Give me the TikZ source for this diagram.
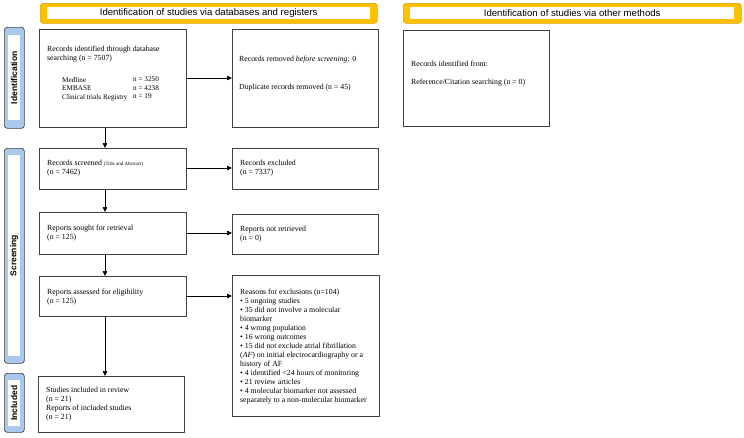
\documentclass[tikz,border=0pt]{standalone}
\usepackage{fontspec}
\setmainfont{Liberation Serif}
\newfontfamily\hdrfont{Liberation Sans}
\usetikzlibrary{arrows.meta,calc}
\definecolor{boxline}{HTML}{404040}
\definecolor{hdrorange}{HTML}{FFC000}
\definecolor{sideblue}{HTML}{A9C8EC}
\tikzset{
  box/.style={draw=boxline, line width=0.9pt, fill=white, anchor=north west, inner sep=0pt},
  txt/.style={anchor=north west, inner sep=0pt, align=left, font=\fontsize{7.8}{9}\selectfont},
  tbl/.style={anchor=north west, inner sep=0pt, align=left, font=\fontsize{7.2}{8.5}\selectfont},
  hdrout/.style={draw=hdrorange!85!black, fill=hdrorange, rounded corners=3pt, line width=0.6pt, anchor=north west, inner sep=0pt},
  hdrin/.style={fill=white, anchor=north west, inner sep=0pt},
  hdrtxt/.style={font=\hdrfont\fontsize{9.6}{11}\selectfont},
  sideout/.style={draw=boxline, fill=sideblue, rounded corners=3pt, line width=0.7pt, anchor=north west, inner sep=0pt},
  sidein/.style={fill=white, anchor=north west, inner sep=0pt},
  sidetxt/.style={font=\hdrfont\bfseries\fontsize{8.5}{10}\selectfont, rotate=90},
  arr/.style={draw=black, line width=0.7pt, -{Triangle[length=5pt,width=4.5pt]}}
}
\begin{document}
\begin{tikzpicture}[x=1pt,y=-1pt]
\useasboundingbox (0,0) rectangle (744,437);
% headers
\node[hdrout, minimum width=337, minimum height=20] (h1o) at (40,3) {};
\node[hdrin, minimum width=323, minimum height=12] (h1i) at (47,7) {};
\node[hdrtxt] (h1t) at (h1i.center) {Identification of studies via databases and registers};
\node[hdrout, minimum width=338, minimum height=20] (h2o) at (403,3) {};
\node[hdrin, minimum width=324, minimum height=12] (h2i) at (410,7) {};
\node[hdrtxt] (h2t) at (h2i.center) {Identification of studies via other methods};
% side labels
\node[sideout, minimum width=20, minimum height=101] (s1o) at (4,27) {};
\node[sidein, minimum width=12, minimum height=85] (s1i) at (8,35) {};
\node[sidetxt] (s1t) at (s1i.center) {Identification};
\node[sideout, minimum width=20, minimum height=215] (s2o) at (4,148) {};
\node[sidein, minimum width=12, minimum height=201] (s2i) at (8,155) {};
\node[sidetxt] (s2t) at (s2i.center) {Screening};
\node[sideout, minimum width=20, minimum height=59] (s3o) at (4,373) {};
\node[sidein, minimum width=12, minimum height=46] (s3i) at (8,380) {};
\node[sidetxt] (s3t) at (s3i.center) {Included};
% boxes
\node[box, minimum width=147, minimum height=98] (b1) at (39,29) {};
\node[txt] (t1) at (47,46) {Records identified through database\\searching (n = 7507)};
\node[tbl] (t1a) at (62,77) {Medline\\EMBASE\\Clinical trials Registry};
\node[tbl] (t1b) at (133,77) {n = 3250\\n = 4238\\n = 19};
\node[box, minimum width=146, minimum height=98] (b2) at (232,29) {};
\node[txt] (t2) at (239,56) {Records removed \textit{before screening}: 0};
\node[txt] (t2b) at (239,84) {Duplicate records removed (n = 45)};
\node[box, minimum width=146, minimum height=96] (b3) at (403,30) {};
\node[txt] (t3) at (411,61) {Records identified from:};
\node[txt] (t3b) at (411,79) {Reference/Citation searching (n = 0)};
\node[box, minimum width=147, minimum height=41] (b4) at (39,148) {};
\node[txt] (t4) at (47,160) {Records screened {\fontsize{5}{5}\selectfont(Title and Abstract)}\\(n = 7462)};
\node[box, minimum width=146, minimum height=41] (b5) at (232,148) {};
\node[txt] (t5) at (240,160) {Records excluded\\(n = 7337)};
\node[box, minimum width=147, minimum height=42] (b6) at (39,212) {};
\node[txt] (t6) at (47,225) {Reports sought for retrieval\\(n = 125)};
\node[box, minimum width=146, minimum height=40] (b7) at (232,214) {};
\node[txt] (t7) at (240,226) {Reports not retrieved\\(n = 0)};
\node[box, minimum width=147, minimum height=40] (b8) at (39,276) {};
\node[txt] (t8) at (47,289) {Reports assessed for eligibility\\(n = 125)};
\node[box, minimum width=147, minimum height=141] (b9) at (232,275) {};
\node[txt] (t9) at (240,289) {Reasons for exclusions (n=104)\\
\textbullet{} 5 ongoing studies\\
\textbullet{} 35 did not involve a molecular\\biomarker\\
\textbullet{} 4 wrong population\\
\textbullet{} 16 wrong outcomes\\
\textbullet{} 15 did not exclude atrial fibrillation\\(\textit{AF}) on initial electrocardiography or a\\history of AF\\
\textbullet{} 4 identified <24 hours of monitoring\\
\textbullet{} 21 review articles\\
\textbullet{} 4 molecular biomarker not assessed\\separately to a non-molecular biomarker};
\node[box, minimum width=146, minimum height=56] (b10) at (38,376) {};
\node[txt] (t10) at (46,387) {Studies included in review\\(n = 21)\\Reports of included studies\\(n = 21)};
% arrows
\coordinate (a1) at (105,127);
\draw[arr] (b1.south -| a1) -- (b4.north -| a1);
\draw[arr] (b4.south -| a1) -- (b6.north -| a1);
\draw[arr] (b6.south -| a1) -- (b8.north -| a1);
\draw[arr] (b8.south -| a1) -- (b10.north -| a1);
\coordinate (r1) at (0,78);
\coordinate (r2) at (0,168);
\coordinate (r3) at (0,233);
\coordinate (r4) at (0,296);
\draw[arr] (b1.east |- r1) -- (b2.west |- r1);
\draw[arr] (b4.east |- r2) -- (b5.west |- r2);
\draw[arr] (b6.east |- r3) -- (b7.west |- r3);
\draw[arr] (b8.east |- r4) -- (b9.west |- r4);
\end{tikzpicture}
\end{document}
